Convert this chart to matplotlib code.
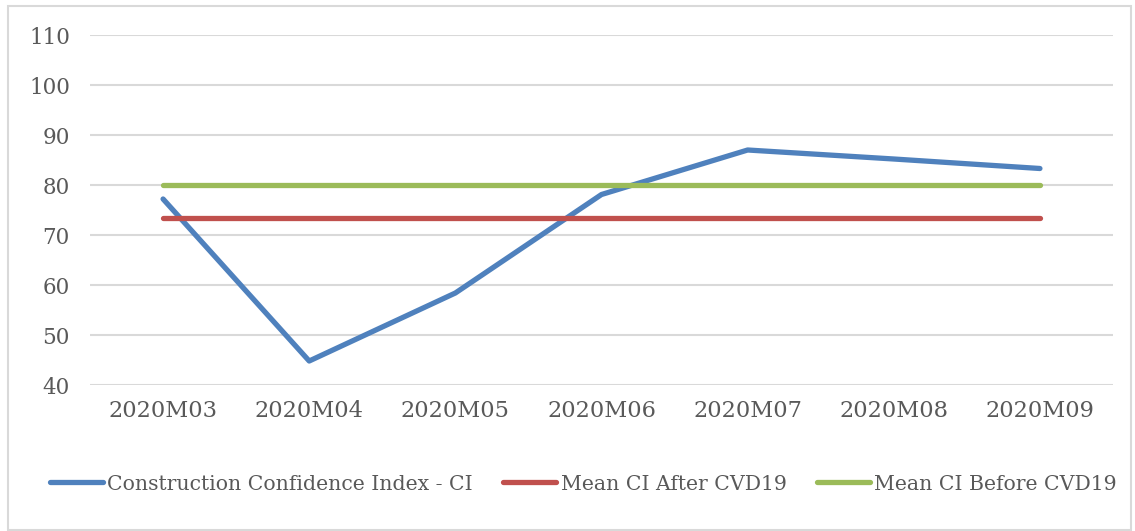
import matplotlib
matplotlib.use("Agg")
import matplotlib.pyplot as plt
from matplotlib.patches import Rectangle

categories = ["2020M03", "2020M04", "2020M05", "2020M06", "2020M07", "2020M08", "2020M09"]
ci_values = [77.2, 44.8, 58.4, 78.1, 87.0, 85.2, 83.3]
mean_after = [73.4] * 7
mean_before = [80.0] * 7
yticks = [40, 50, 60, 70, 80, 90, 100, 110]

plt.rcParams['font.family'] = ['DejaVu Serif']
text_color = '#595959'
grid_color = '#d9d9d9'

fig = plt.figure(figsize=(11.35, 5.31), dpi=100)
ax = fig.add_axes([90/1135, 1-385/531, (1113-90)/1135, (385-35)/531])

x = list(range(len(categories)))
lw = 3.8
l1, = ax.plot(x, ci_values, color='#4F81BD', lw=lw, solid_capstyle='round', solid_joinstyle='round',
              label='Construction Confidence Index - CI', zorder=3)
l2, = ax.plot(x, mean_after, color='#C0504D', lw=lw, solid_capstyle='round',
              label='Mean CI After CVD19', zorder=3)
l3, = ax.plot(x, mean_before, color='#9BBB59', lw=lw, solid_capstyle='round',
              label='Mean CI Before CVD19', zorder=3)

ax.set_xlim(-0.5, len(categories) - 0.5)
ax.set_ylim(40, 110)
ax.set_yticks(yticks)
ax.set_xticks(x)
ax.set_xticklabels(categories)
ax.grid(axis='y', color=grid_color, lw=1.5)
ax.set_axisbelow(True)
for s in ax.spines.values():
    s.set_visible(False)
ax.tick_params(axis='both', length=0, colors=text_color)
ax.tick_params(axis='y', pad=14.5, labelsize=15.5)
ax.tick_params(axis='x', pad=11, labelsize=16.2)

leg = fig.legend(handles=[l1, l2, l3], loc='center', bbox_to_anchor=(0.514, 1-484/531), ncol=3,
                 frameon=False, fontsize=14.7, handlelength=2.6, handletextpad=0.2, columnspacing=1.5)
for t in leg.get_texts():
    t.set_color(text_color)

fig.patches.append(Rectangle((8/1135, 1/531), (1131-8)/1135, (525-1)/531, transform=fig.transFigure,
                             fill=False, edgecolor=grid_color, lw=1.5))

fig.savefig('out.png', dpi=100)
